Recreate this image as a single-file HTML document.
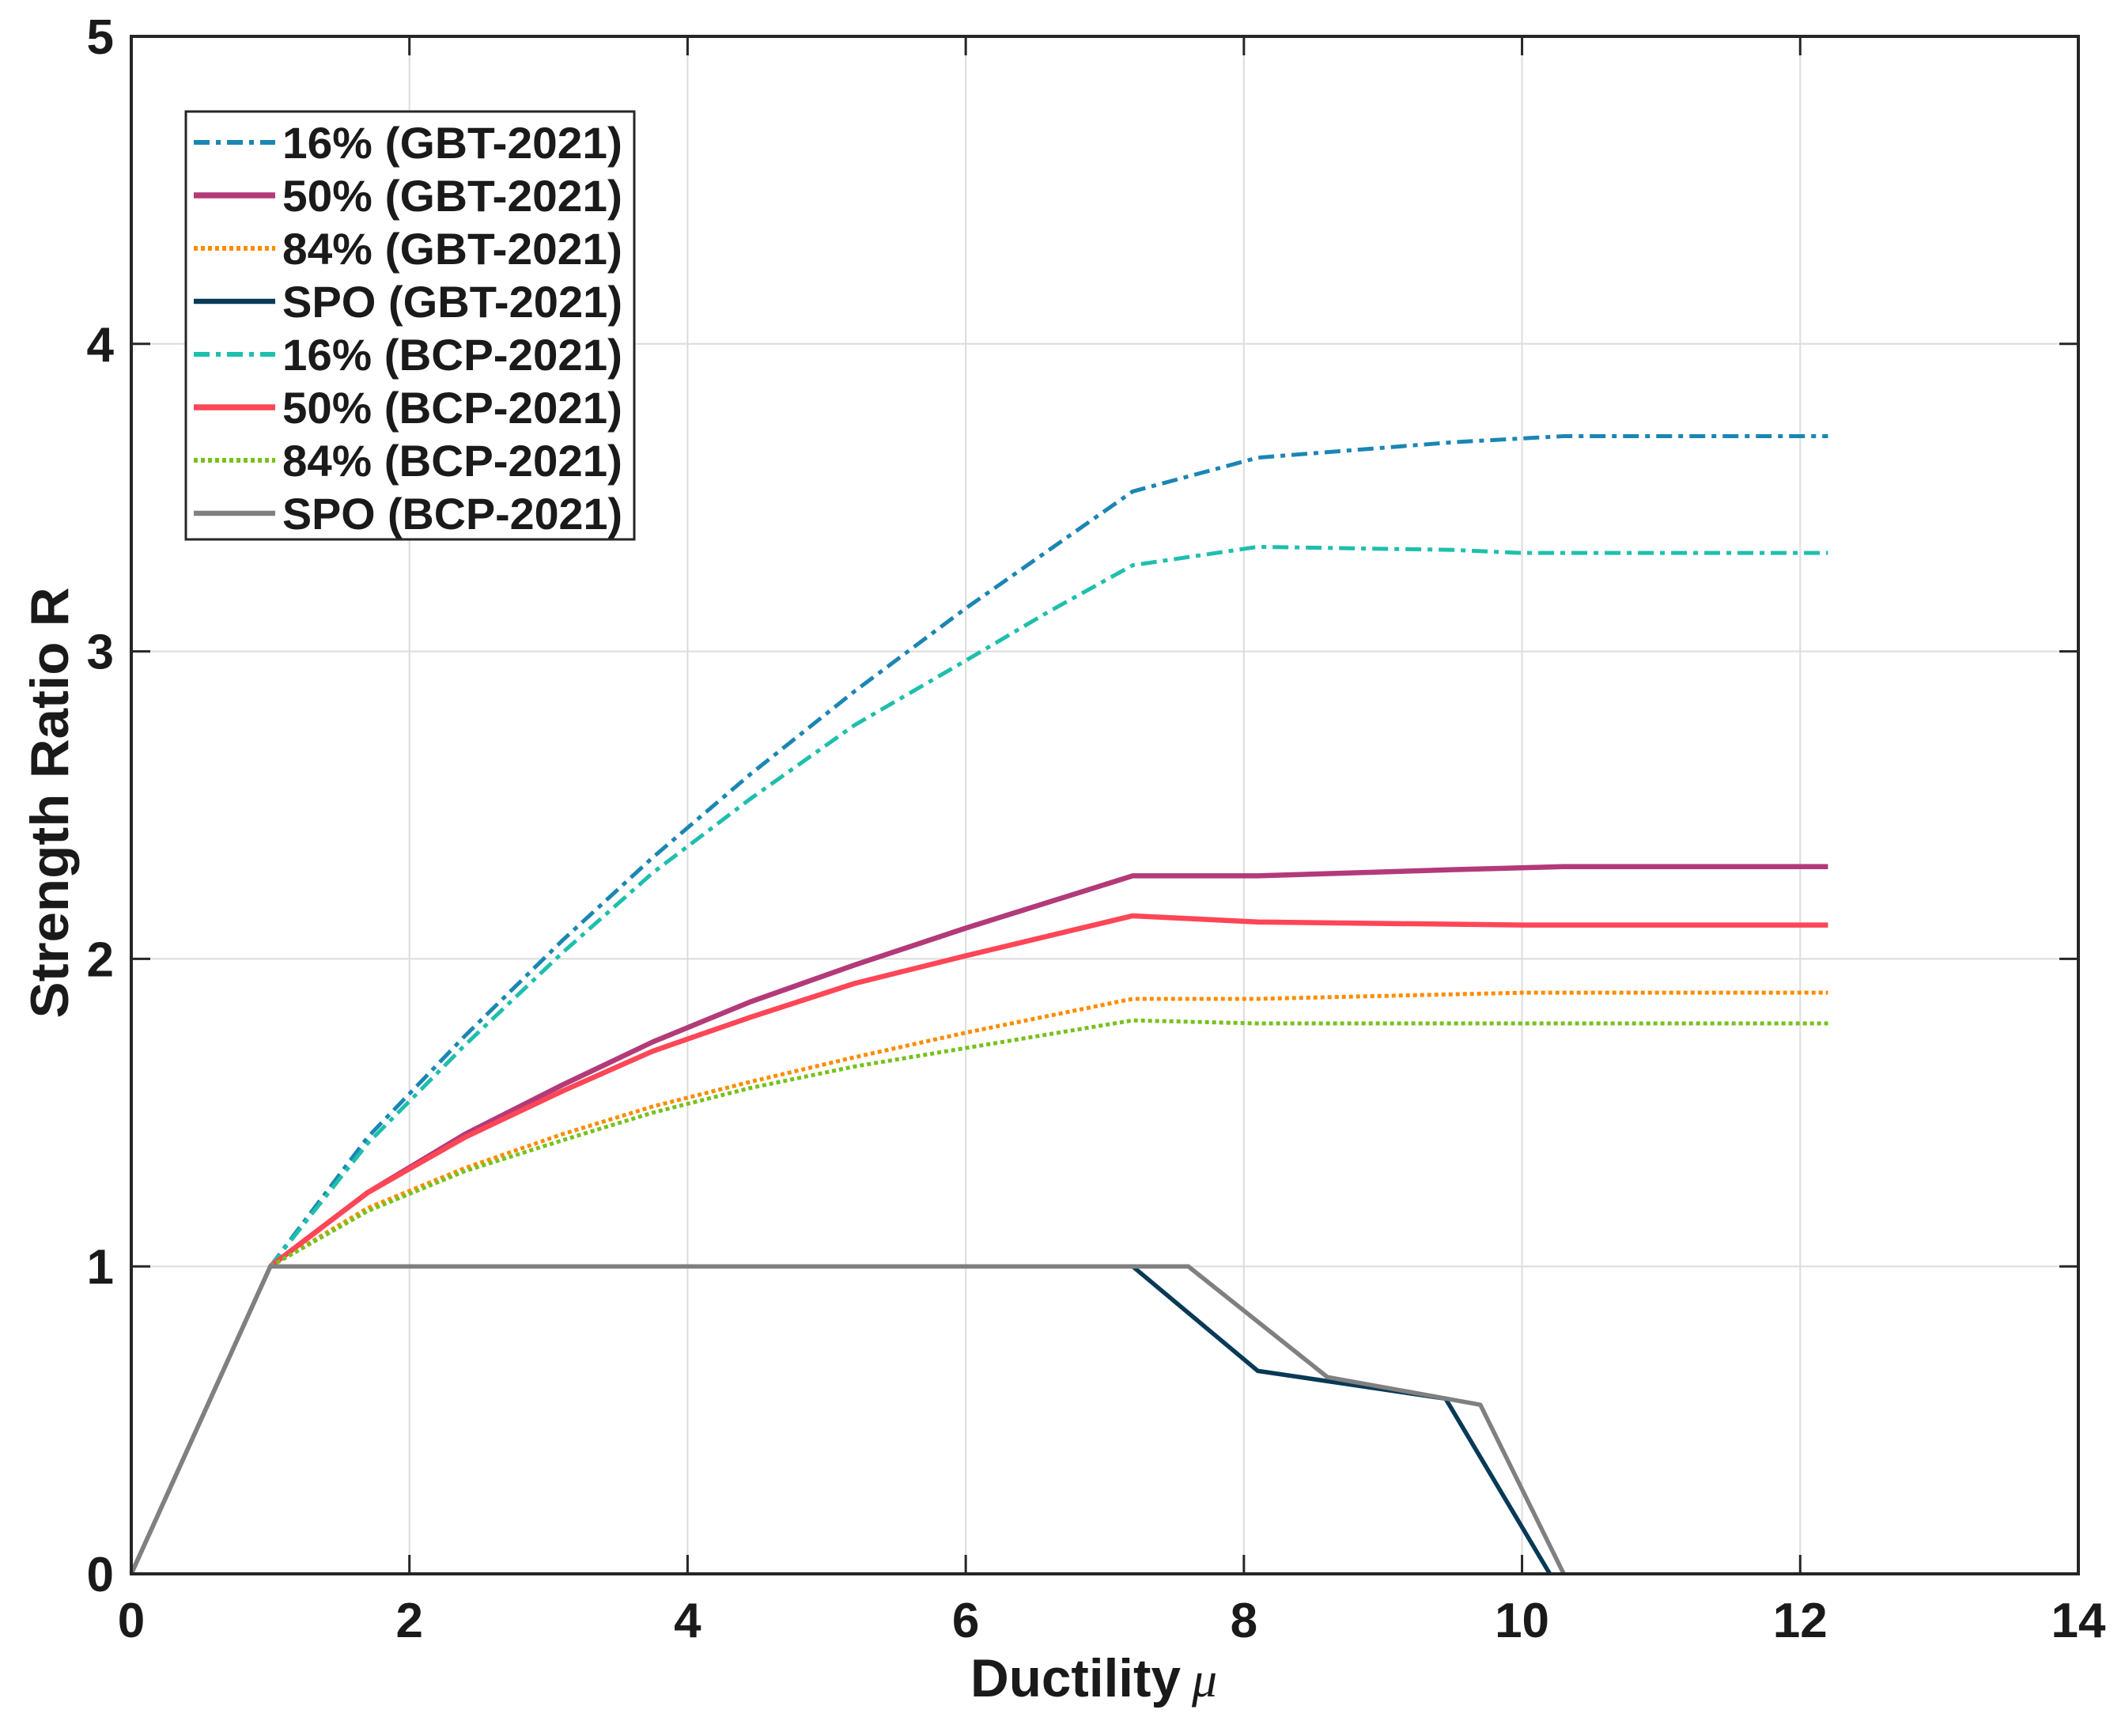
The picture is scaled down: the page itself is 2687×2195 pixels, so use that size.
<!DOCTYPE html>
<html><head><meta charset="utf-8"><style>
html,body{margin:0;padding:0;background:#fff;}
svg text{font-family:"Liberation Sans",Arial,sans-serif;font-weight:bold;fill:#1a1a1a;}
</style></head><body>
<svg id="chart" width="2687" height="2190" viewBox="0 0 2687 2190" xmlns="http://www.w3.org/2000/svg">
<rect x="0" y="0" width="2687" height="2190" fill="#fff"/>
<g id="grid"></g>
<g id="series"></g>
<g id="axes"></g>
<g id="legend"></g>
<text x="0" y="0" transform="translate(86,1015) rotate(-90)" text-anchor="middle" font-size="68" textLength="545" lengthAdjust="spacingAndGlyphs">Strength Ratio R</text>
<text x="1227" y="2145" font-size="68"><tspan textLength="266" lengthAdjust="spacingAndGlyphs">Ductility</tspan><tspan dx="14" font-family="Liberation Serif, serif" font-style="italic" font-weight="normal" font-size="64">μ</tspan></text>
</svg>
<script>
const xTicks=[0,2,4,6,8,10,12,14];
const yTicks=[0,1,2,3,4,5];
const seriesNames=["16% (GBT-2021)","50% (GBT-2021)","84% (GBT-2021)","SPO (GBT-2021)","16% (BCP-2021)","50% (BCP-2021)","84% (BCP-2021)","SPO (BCP-2021)"];
const gbt16X=[1,1.7,2.4,3.1,3.75,4.45,5.2,6,6.6,7.2,8.1,9.5,10.3,12.2];
const gbt16Y=[1,1.42,1.75,2.06,2.33,2.6,2.87,3.14,3.33,3.52,3.63,3.68,3.7,3.7];
const gbt50X=[1,1.7,2.4,3.1,3.75,4.45,5.2,6,7.2,8.1,9.5,10.3,12.2];
const gbt50Y=[1,1.24,1.43,1.59,1.73,1.86,1.98,2.1,2.27,2.27,2.29,2.3,2.3];
const gbt84X=[1,1.7,2.4,3.1,3.75,4.45,5.2,6,7.2,8.1,10,12.2];
const gbt84Y=[1,1.19,1.32,1.43,1.52,1.6,1.68,1.76,1.87,1.87,1.89,1.89];
const gbtSpoX=[0,1,7.2,8.1,9.45,10.2];
const gbtSpoY=[0,1,1,0.66,0.57,0];
const bcp16X=[1,1.7,2.4,3.1,3.75,4.45,5.2,6,6.6,7.2,8.1,9.5,10,12.2];
const bcp16Y=[1,1.4,1.72,2.02,2.28,2.52,2.76,2.97,3.13,3.28,3.34,3.33,3.32,3.32];
const bcp50X=[1,1.7,2.4,3.1,3.75,4.45,5.2,6,7.2,8.1,10,12.2];
const bcp50Y=[1,1.24,1.42,1.57,1.7,1.81,1.92,2.01,2.14,2.12,2.11,2.11];
const bcp84X=[1,1.7,2.4,3.1,3.75,4.45,5.2,6,7.2,8.1,10,12.2];
const bcp84Y=[1,1.18,1.31,1.41,1.5,1.58,1.65,1.71,1.8,1.79,1.79,1.79];
const bcpSpoX=[0,1,7.6,8.6,9.7,10.3];
const bcpSpoY=[0,1,1,0.64,0.55,0];

const L=166,R=2628,T=46,B=1990;
function sx(v){return L+(v-0)/(14-0)*(R-L);}
function sy(v){return B-(v-0)/(5-0)*(B-T);}
const NS="http://www.w3.org/2000/svg";
function mk(tag,parent){const e=document.createElementNS(NS,tag);parent.appendChild(e);return e;}
const grid=document.getElementById('grid'),axes=document.getElementById('axes'),ser=document.getElementById('series'),leg=document.getElementById('legend');

xTicks.forEach(v=>{
  const g=mk('line',grid);
  
  
  g.setAttribute('x1',sx(v));g.setAttribute('x2',sx(v));g.setAttribute('y1',T);g.setAttribute('y2',B);
  g.setAttribute('stroke','#dcdcdc');g.setAttribute('stroke-width','2');
  const t=mk('text',axes);
  
  
  t.setAttribute('x',sx(v));t.setAttribute('y',B+80);t.setAttribute('text-anchor','middle');t.setAttribute('font-size','62');
  t.textContent=v;
  [[B,B-24],[T,T+24]].forEach(p=>{const k=mk('line',axes);
    
    
    k.setAttribute('x1',sx(v));k.setAttribute('x2',sx(v));k.setAttribute('y1',p[0]);k.setAttribute('y2',p[1]);k.setAttribute('stroke','#262626');k.setAttribute('stroke-width','3');});
});
yTicks.forEach(v=>{
  const g=mk('line',grid);
  
  
  g.setAttribute('x1',L);g.setAttribute('x2',R);g.setAttribute('y1',sy(v));g.setAttribute('y2',sy(v));
  g.setAttribute('stroke','#dcdcdc');g.setAttribute('stroke-width','2');
  const t=mk('text',axes);
  
  
  t.setAttribute('x',L-22);t.setAttribute('y',sy(v)+22);t.setAttribute('text-anchor','end');t.setAttribute('font-size','62');
  t.textContent=v;
  [[L,L+24],[R,R-24]].forEach(p=>{const k=mk('line',axes);
    
    
    k.setAttribute('x1',p[0]);k.setAttribute('x2',p[1]);k.setAttribute('y1',sy(v));k.setAttribute('y2',sy(v));k.setAttribute('stroke','#262626');k.setAttribute('stroke-width','3');});
});
const box=mk('rect',axes);


box.setAttribute('x',L);box.setAttribute('y',T);box.setAttribute('width',R-L);box.setAttribute('height',B-T);
box.setAttribute('fill','none');box.setAttribute('stroke','#262626');box.setAttribute('stroke-width','4');

const styles=[
 {x:gbt16X,y:gbt16Y,c:'#1b86b3',d:'20 8 6 8',w:5,n:'line-16-gbt'},
 {x:gbt50X,y:gbt50Y,c:'#b33a79',d:'',w:6.5,n:'line-50-gbt'},
 {x:gbt84X,y:gbt84Y,c:'#ff8c00',d:'5 4',w:5,n:'line-84-gbt'},
 {x:gbtSpoX,y:gbtSpoY,c:'#083a57',d:'',w:5.5,n:'line-spo-gbt'},
 {x:bcp16X,y:bcp16Y,c:'#1fbfad',d:'20 8 6 8',w:5,n:'line-16-bcp'},
 {x:bcp50X,y:bcp50Y,c:'#ff4656',d:'',w:6.5,n:'line-50-bcp'},
 {x:bcp84X,y:bcp84Y,c:'#77c11c',d:'5 4',w:5,n:'line-84-bcp'},
 {x:bcpSpoX,y:bcpSpoY,c:'#808080',d:'',w:5.5,n:'line-spo-bcp'}
];
styles.forEach(s=>{
  const p=mk('polyline',ser);
  
  
  p.setAttribute('points',s.x.map((v,i)=>sx(v)+','+sy(s.y[i])).join(' '));
  p.setAttribute('fill','none');p.setAttribute('stroke',s.c);p.setAttribute('stroke-width',s.w);
  if(s.d)p.setAttribute('stroke-dasharray',s.d);
  p.setAttribute('stroke-linejoin','round');
});
const lb=mk('rect',leg);


lb.setAttribute('x',235);lb.setAttribute('y',141);lb.setAttribute('width',567);lb.setAttribute('height',541);
lb.setAttribute('fill','#fff');lb.setAttribute('stroke','#262626');lb.setAttribute('stroke-width','3');
seriesNames.forEach((name,i)=>{
  const s=styles[i];const yy=180+i*67;
  const l=mk('line',leg);
  
  
  l.setAttribute('x1',245);l.setAttribute('x2',348);l.setAttribute('y1',yy);l.setAttribute('y2',yy);
  l.setAttribute('stroke',s.c);l.setAttribute('stroke-width',s.w+1);if(s.d)l.setAttribute('stroke-dasharray',s.d);
  const t=mk('text',leg);
  
  
  t.setAttribute('x',357);t.setAttribute('y',yy+20);t.setAttribute('font-size','56');
  t.setAttribute('textLength','430');t.setAttribute('lengthAdjust','spacingAndGlyphs');
  t.textContent=name;
});
</script>
</body></html>
